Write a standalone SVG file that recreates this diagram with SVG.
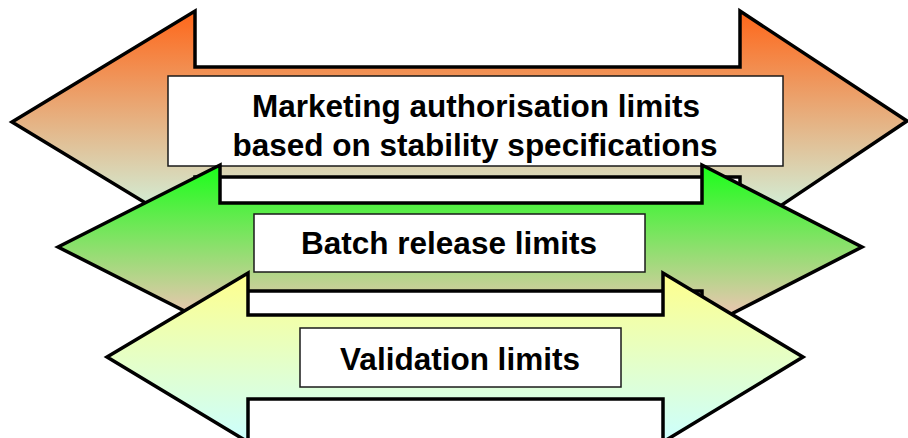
<svg xmlns="http://www.w3.org/2000/svg" width="908" height="438" viewBox="0 0 908 438">
  <style>
    .arrow { stroke: #000; stroke-width: 3.5; stroke-linejoin: miter; stroke-miterlimit: 10; }
    .box { fill: #fff; stroke: #1a1a1a; stroke-width: 1.5; }
    .lbl { font-family: "Liberation Sans", Arial, sans-serif; font-weight: bold; font-size: 31.5px; fill: #000; text-anchor: middle; }
  </style>
  <defs>
    <linearGradient id="gOrange" gradientUnits="userSpaceOnUse" x1="0" y1="11" x2="0" y2="233">
      <stop offset="0" stop-color="#FF6619"/>
      <stop offset="1" stop-color="#CCFFEE"/>
    </linearGradient>
    <linearGradient id="gGreen" gradientUnits="userSpaceOnUse" x1="0" y1="165" x2="0" y2="329">
      <stop offset="0" stop-color="#19FF19"/>
      <stop offset="1" stop-color="#FFC0C0"/>
    </linearGradient>
    <linearGradient id="gYellow" gradientUnits="userSpaceOnUse" x1="0" y1="273" x2="0" y2="442">
      <stop offset="0" stop-color="#FFFF8C"/>
      <stop offset="1" stop-color="#CCFFFF"/>
    </linearGradient>
  </defs>
  <rect x="0" y="0" width="908" height="438" fill="#fff"/>

  <g id="marketing-authorisation">
    <path class="arrow" fill="url(#gOrange)" d="M12,122 L195,11 L195,67 L740,67 L740,11 L907,121 L740,233 L740,177 L195,177 L195,233 Z"/>
    <rect class="box" x="168" y="76" width="615" height="90"/>
    <text class="lbl" x="476" y="117">Marketing authorisation limits</text>
    <text class="lbl" x="475" y="156">based on stability specifications</text>
  </g>

  <g id="batch-release">
    <path class="arrow" fill="url(#gGreen)" d="M58,247 L220,165 L220,203 L702,203 L702,165 L862,247 L702,329 L702,291 L220,291 L220,329 Z"/>
    <rect class="box" x="254" y="214" width="391" height="58"/>
    <text class="lbl" x="449" y="254">Batch release limits</text>
  </g>

  <g id="validation">
    <path class="arrow" fill="url(#gYellow)" d="M107,357 L248,273 L248,315 L663,315 L663,273 L803,357 L663,442 L663,399 L248,399 L248,442 Z"/>
    <rect class="box" x="300" y="328" width="321" height="59"/>
    <text class="lbl" x="460" y="370">Validation limits</text>
  </g>

  <g id="connectors"/>
</svg>
